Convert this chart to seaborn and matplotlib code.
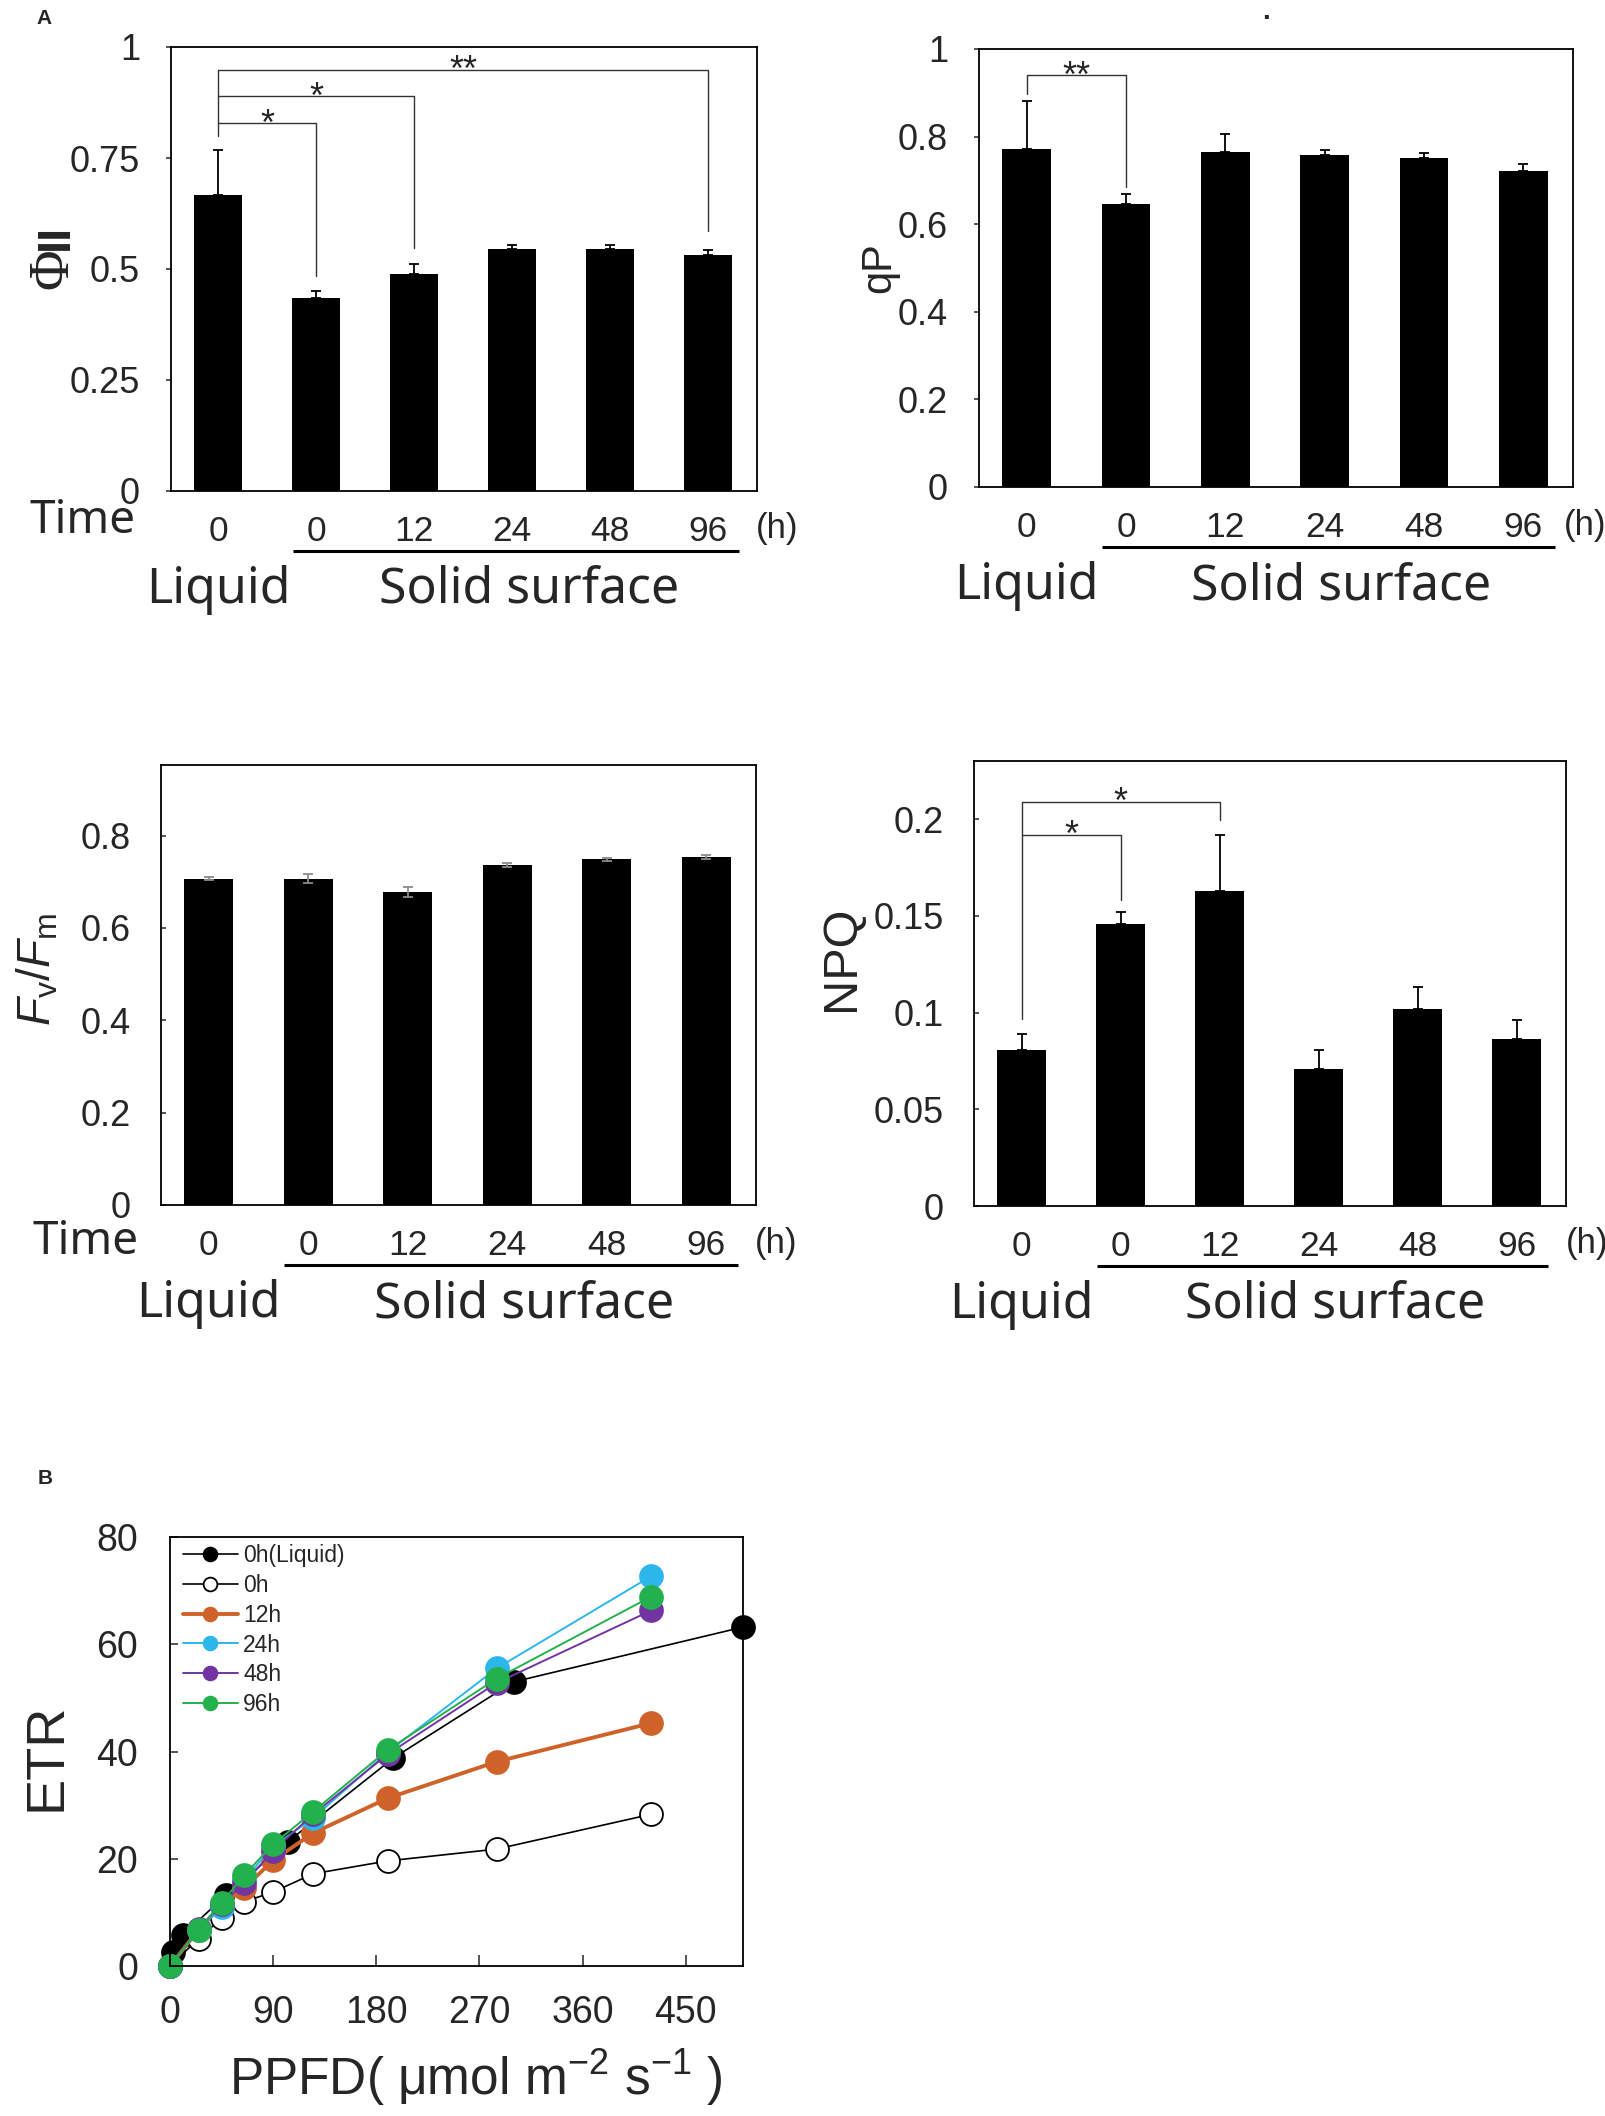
import numpy as np
import pandas as pd
import matplotlib
matplotlib.use("Agg")
import matplotlib.pyplot as plt
import seaborn as sns

FIG_W, FIG_H = 1606, 2116

# bar panels: six sampling conditions
CONDITIONS = ["Liquid 0", "Solid 0", "Solid 12", "Solid 24", "Solid 48", "Solid 96"]
TIME_LABELS = ["0", "0", "12", "24", "48", "96"]

PHI_MEAN = [0.666, 0.435, 0.489, 0.545, 0.545, 0.532]
PHI_SD = [0.101, 0.016, 0.023, 0.009, 0.009, 0.010]

QP_MEAN = [0.771, 0.647, 0.764, 0.758, 0.751, 0.721]
QP_SD = [0.110, 0.023, 0.042, 0.012, 0.011, 0.016]

FVFM_MEAN = [0.707, 0.707, 0.678, 0.736, 0.749, 0.754]
FVFM_SD = [0.004, 0.010, 0.010, 0.004, 0.003, 0.004]

NPQ_MEAN = [0.0806, 0.1456, 0.1626, 0.0710, 0.1020, 0.0865]
NPQ_SD = [0.0082, 0.0064, 0.0290, 0.0094, 0.0110, 0.0094]

# significance brackets: (target bar, bracket level, drop end, stars)
PHI_BASE = 0.80
PHI_BRACKETS = [(1, 0.828, 0.484, "*"), (2, 0.889, 0.547, "*"), (5, 0.949, 0.585, "**")]
QP_BASE = 0.898
QP_BRACKETS = [(1, 0.941, 0.684, "**")]
NPQ_BASE = 0.0968
NPQ_BRACKETS = [(1, 0.192, 0.158, "*"), (2, 0.209, 0.1994, "*")]

# light curves (ETR vs PPFD)
PPFD = [0, 25, 45, 65, 90, 125, 190, 285, 420]
PPFD_LIQUID = [0, 3, 11, 49, 103, 195, 300, 500]
ETR_LIQUID = [0, 2.7, 5.8, 13.2, 23.2, 38.8, 53.0, 63.2]
ETR_0H = [0, 5.1, 8.9, 12.0, 13.8, 17.2, 19.6, 21.8, 28.3]
ETR_12H = [0, 6.8, 11.3, 14.6, 19.7, 24.8, 31.3, 38.1, 45.3]
ETR_24H = [0, 6.8, 11.0, 16.2, 22.3, 27.6, 39.9, 55.5, 72.7]
ETR_48H = [0, 6.9, 11.5, 15.5, 21.5, 28.3, 39.5, 52.8, 66.3]
ETR_96H = [0, 6.8, 11.8, 17.0, 22.7, 28.8, 40.3, 53.6, 68.9]

sns.set_style("ticks")
plt.rcParams["font.family"] = ["Liberation Sans", "DejaVu Sans"]
plt.rcParams["mathtext.fontset"] = "custom"
plt.rcParams["mathtext.rm"] = "Liberation Sans"
plt.rcParams["mathtext.it"] = "Liberation Sans:italic"

fig = plt.figure(figsize=(FIG_W / 100, FIG_H / 100), dpi=100)


def px_rect(l, t, r, b):
    return [l / FIG_W, 1 - b / FIG_H, (r - l) / FIG_W, (b - t) / FIG_H]


def bar_panel(box, means, sds, ylim, yticks, yticklabels, tickdir, ylabel=None, ylab_xy=None,
              ylab_size=30, base=None, brackets=(), grey=False, time_dy=None, time_dx=None,
              h_dx=20):
    l, t, r, b = box
    w_px, h_px = r - l, b - t
    ax = fig.add_axes(px_rect(l, t, r, b))
    df = pd.DataFrame({"cond": CONDITIONS, "val": means})
    sns.barplot(data=df, x="cond", y="val", order=CONDITIONS, color="black", width=0.49,
                errorbar=None, saturation=1, linewidth=0, ax=ax)
    pos = np.arange(len(CONDITIONS))
    if grey:
        ax.errorbar(pos, means, yerr=sds, fmt="none", ecolor="#8a8a8a", elinewidth=1.3,
                    capsize=3.6, capthick=1.3, zorder=3)
    else:
        ax.errorbar(pos, means, yerr=[np.zeros(len(sds)), sds], fmt="none", ecolor="black",
                    elinewidth=1.3, capsize=3.6, capthick=1.3, zorder=3)
    ax.set_xlim(-0.48, 5.5)
    ax.set_ylim(*ylim)
    ax.set_yticks(yticks)
    ax.set_yticklabels(yticklabels)
    ax.set_xticks(pos)
    ax.set_xticklabels(TIME_LABELS)
    ax.set_xlabel("")
    ax.set_ylabel("")
    ypad = 18.8 if tickdir == "out" else 21.6
    ax.tick_params(axis="y", direction=tickdir, length=3.5, width=1.1, pad=ypad, labelsize=26)
    ax.tick_params(axis="x", length=0, pad=17, labelsize=25.5)
    for s in ax.spines.values():
        s.set_visible(True)
        s.set_linewidth(1.3)
        s.set_color("black")

    if ylabel is not None:
        ax.text(ylab_xy[0], ylab_xy[1], ylabel, transform=ax.transAxes, rotation=90,
                ha="center", va="center", fontsize=ylab_size)

    # brackets with stars
    if brackets:
        top = max(bk[1] for bk in brackets)
        ax.plot([0, 0], [base, top], color="#333333", lw=1.0, clip_on=False)
        for tgt, lev, drop, stars in brackets:
            ax.plot([0, tgt, tgt], [lev, lev, drop], color="#333333", lw=1.0, clip_on=False)
            ax.annotate(stars, xy=(tgt / 2, lev), xytext=(0, -8.5), textcoords="offset points",
                        ha="center", va="baseline", fontsize=26)

    # labels under the axis
    trans = ax.get_xaxis_transform()
    ax.plot([0.76, 5.32], [-60 / h_px] * 2, transform=trans, color="black", lw=2.2,
            clip_on=False, solid_capstyle="butt")
    ax.text(0.0, -112 / h_px, "Liquid", transform=trans, ha="center", va="baseline",
            fontsize=36, family="Noto Sans")
    ax.text(3.17, -112 / h_px, "Solid surface", transform=trans, ha="center", va="baseline",
            fontsize=36, family="Noto Sans")
    ax.text(1 + h_dx / w_px, -38 / h_px, "(h)", transform=ax.transAxes, ha="center",
            va="center", fontsize=25)
    if time_dy is not None:
        ax.text(time_dx / w_px, -time_dy / h_px, "Time", transform=ax.transAxes, ha="left",
                va="baseline", fontsize=33, family="Noto Sans")
    return ax


ax1 = bar_panel((171, 47, 757, 491), PHI_MEAN, PHI_SD, (0, 1), [0, 0.25, 0.5, 0.75, 1],
                ["0", "0.25", "0.5", "0.75", "1"], "out",
                base=PHI_BASE, brackets=PHI_BRACKETS, time_dy=42, time_dx=-142)
# ΦII label: serif phi with two bars above it
ax1.text(-0.201, 0.50, "Φ", transform=ax1.transAxes, rotation=90, ha="center", va="center",
         fontsize=40, family="Liberation Serif")
ax1.text(-0.197, 0.572, "II", transform=ax1.transAxes, rotation=90, ha="center", va="center",
         fontsize=34, fontweight="bold")

bar_panel((979, 49, 1573, 487), QP_MEAN, QP_SD, (0, 1), [0, 0.2, 0.4, 0.6, 0.8, 1],
          ["0", "0.2", "0.4", "0.6", "0.8", "1"], "out", "qP", (-0.168, 0.5), 30,
          base=QP_BASE, brackets=QP_BRACKETS, h_dx=12)
bar_panel((161, 765, 756, 1205), FVFM_MEAN, FVFM_SD, (0, 0.953), [0, 0.2, 0.4, 0.6, 0.8],
          ["0", "0.2", "0.4", "0.6", "0.8"], "in", r"$F_{\rm v}/F_{\rm m}$", (-0.207, 0.534), 33,
          grey=True, time_dy=49, time_dx=-128)
bar_panel((974, 761, 1566, 1206), NPQ_MEAN, NPQ_SD, (0, 0.23), [0, 0.05, 0.1, 0.15, 0.2],
          ["0", "0.05", "0.1", "0.15", "0.2"], "in", "NPQ", (-0.223, 0.557), 35,
          base=NPQ_BASE, brackets=NPQ_BRACKETS, h_dx=21)

# ETR light curves
ax5 = fig.add_axes(px_rect(170, 1537, 743, 1966))
series = [
    ("0h(Liquid)", PPFD_LIQUID, ETR_LIQUID, "black", 1.2, "black"),
    ("0h", PPFD, ETR_0H, "black", 1.2, "white"),
    ("12h", PPFD, ETR_12H, "#cf6229", 2.8, "#cf6229"),
    ("24h", PPFD, ETR_24H, "#2db6ea", 1.4, "#2db6ea"),
    ("48h", PPFD, ETR_48H, "#7234a1", 1.4, "#7234a1"),
    ("96h", PPFD, ETR_96H, "#23b14d", 1.4, "#23b14d"),
]
for name, xs, ys, col, lw, mfc in series:
    d = pd.DataFrame({"ppfd": xs, "etr": ys})
    sns.lineplot(data=d, x="ppfd", y="etr", color=col, linewidth=lw, marker="o",
                 markersize=16.5, markerfacecolor=mfc, markeredgecolor=col,
                 markeredgewidth=1.3, estimator=None, sort=False, label=name,
                 clip_on=False, ax=ax5)
ax5.set_xlim(0, 500)
ax5.set_ylim(0, 80)
ax5.set_xticks([0, 90, 180, 270, 360, 450])
ax5.set_yticks([0, 20, 40, 60, 80])
ax5.set_xlabel("")
ax5.set_ylabel("")
ax5.tick_params(axis="x", direction="in", length=8, width=1.1, pad=21, labelsize=27)
ax5.tick_params(axis="y", direction="in", length=6, width=1.1, pad=23, labelsize=27)
for s in ax5.spines.values():
    s.set_visible(True)
    s.set_linewidth(1.3)
    s.set_color("black")
ax5.text(-0.216, 0.487, "ETR", transform=ax5.transAxes, rotation=90, ha="center",
         va="center", fontsize=39)
ax5.text(0.534, -0.26, r"PPFD( μmol m$^{-2}$ s$^{-1}$ )", transform=ax5.transAxes,
         ha="center", va="center", fontsize=37)
ax5.legend(loc="upper left", bbox_to_anchor=(0.01, 1.0), frameon=False, fontsize=16.5,
           handlelength=2.4, handletextpad=0.25, labelspacing=0.3, markerscale=0.6,
           borderaxespad=0.1, borderpad=0.2)

fig.text(44 / FIG_W, 1 - 18 / FIG_H, "A", ha="center", va="center", fontsize=15,
         fontweight="bold")
fig.text(45 / FIG_W, 1 - 1478 / FIG_H, "B", ha="center", va="center", fontsize=15,
         fontweight="bold")
fig.text(1266 / FIG_W, 1 - 19 / FIG_H, ".", ha="center", va="baseline", fontsize=20,
         fontweight="bold")

fig.savefig("out.png", dpi=100)
